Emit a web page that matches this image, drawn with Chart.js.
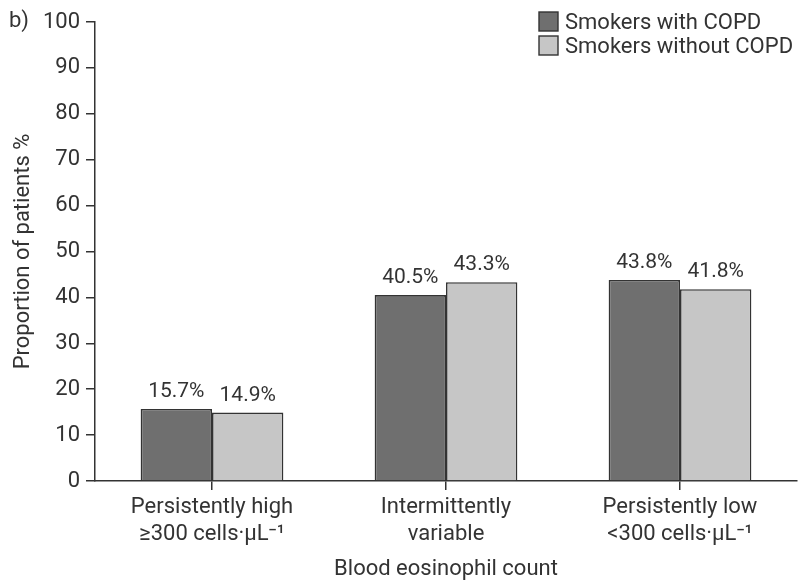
<!DOCTYPE html>
<html>
<head>
<meta charset="utf-8">
<script src="https://cdn.jsdelivr.net/npm/chart.js@4/dist/chart.umd.min.js"></script>
<style>
  html, body { margin: 0; padding: 0; background: #fff; }
  #wrap { width: 798px; height: 584px; position: relative; }
</style>
</head>
<body>
<div id="wrap"><canvas id="c" width="798" height="584"></canvas></div>
<script>
// Blood eosinophil categories (two-line axis labels)
const categories = [
  ["Persistently high", "\u2265300 cells\u00b7\u03bcL\u207b\u00b9"],
  ["Intermittently", "variable"],
  ["Persistently low", "<300 cells\u00b7\u03bcL\u207b\u00b9"]
];
const seriesNames = ["Smokers with COPD", "Smokers without COPD"];
const withCopd = [15.7, 40.5, 43.8];
const withoutCopd = [14.9, 43.3, 41.8];
const yTicks = [0, 10, 20, 30, 40, 50, 60, 70, 80, 90, 100];

const FONT = "Roboto, 'DejaVu Sans', sans-serif";
const INK = "#333333";
const DARK = "#6f6f6f";
const LIGHT = "#c6c6c6";
const TEXT_FONT = { family: FONT, size: 22, weight: 400 };

// Value labels above each bar
const valueLabels = {
  id: "valueLabels",
  afterDatasetsDraw(chart) {
    const ctx = chart.ctx;
    ctx.save();
    ctx.font = "400 21px " + FONT;
    ctx.fillStyle = INK;
    ctx.textAlign = "center";
    ctx.textBaseline = "alphabetic";
    chart.data.datasets.forEach((ds, di) => {
      chart.getDatasetMeta(di).data.forEach((bar, i) => {
        ctx.fillText(ds.data[i].toFixed(1) + "%", bar.x, bar.y - 12);
      });
    });
    ctx.restore();
  }
};

// Panel letter and legend in the top right corner
const decorations = {
  id: "decorations",
  afterDraw(chart) {
    const ctx = chart.ctx;
    ctx.save();
    ctx.font = "400 22px " + FONT;
    ctx.fillStyle = INK;
    ctx.textBaseline = "middle";
    ctx.textAlign = "left";
    ctx.fillText("b)", 9, 21);
    chart.data.datasets.forEach((ds, i) => {
      const y = 22 + i * 24;
      ctx.fillStyle = ds.backgroundColor;
      ctx.fillRect(539, y - 10, 19, 19);
      ctx.strokeStyle = INK;
      ctx.lineWidth = 1.4;
      ctx.strokeRect(539, y - 10, 19, 19);
      ctx.fillStyle = INK;
      ctx.fillText(ds.label, 565, y + 1);
    });
    ctx.restore();
  }
};

new Chart(document.getElementById("c"), {
  type: "bar",
  data: {
    labels: categories,
    datasets: [
      { label: seriesNames[0], data: withCopd, backgroundColor: DARK, borderColor: INK, borderWidth: 1.6 },
      { label: seriesNames[1], data: withoutCopd, backgroundColor: LIGHT, borderColor: INK, borderWidth: 1.6 }
    ]
  },
  options: {
    responsive: false,
    animation: false,
    devicePixelRatio: 1,
    layout: { padding: { top: 22, right: 1, left: 0, bottom: 0 } },
    categoryPercentage: 0.61,
    barPercentage: 1.0,
    plugins: {
      legend: { display: false },
      tooltip: { enabled: false }
    },
    scales: {
      x: {
        offset: true,
        grid: { offset: false, drawOnChartArea: false, drawTicks: true, tickLength: 9, color: INK, lineWidth: 1.5 },
        border: { color: INK, width: 1.5 },
        ticks: { color: INK, font: { ...TEXT_FONT, lineHeight: 1.22 }, padding: 4, maxRotation: 0 },
        title: { display: true, text: "Blood eosinophil count", color: INK, font: { ...TEXT_FONT, lineHeight: 1.2 }, padding: { top: 10, bottom: 1 } },
        afterFit(scale) { scale.height = 103; }
      },
      y: {
        min: 0,
        max: 100,
        afterBuildTicks(scale) { scale.ticks = yTicks.map(v => ({ value: v })); },
        grid: { drawOnChartArea: false, drawTicks: true, tickLength: 9, color: INK, lineWidth: 1.5 },
        border: { color: INK, width: 1.5 },
        ticks: { color: INK, font: TEXT_FONT, padding: 6 },
        title: { display: true, text: "Proportion of patients %", color: INK, font: { ...TEXT_FONT, lineHeight: 1.2 }, padding: { top: 10, bottom: 0 } },
        afterFit(scale) { scale.width = 95; }
      }
    }
  },
  plugins: [valueLabels, decorations]
});
</script>
</body>
</html>
